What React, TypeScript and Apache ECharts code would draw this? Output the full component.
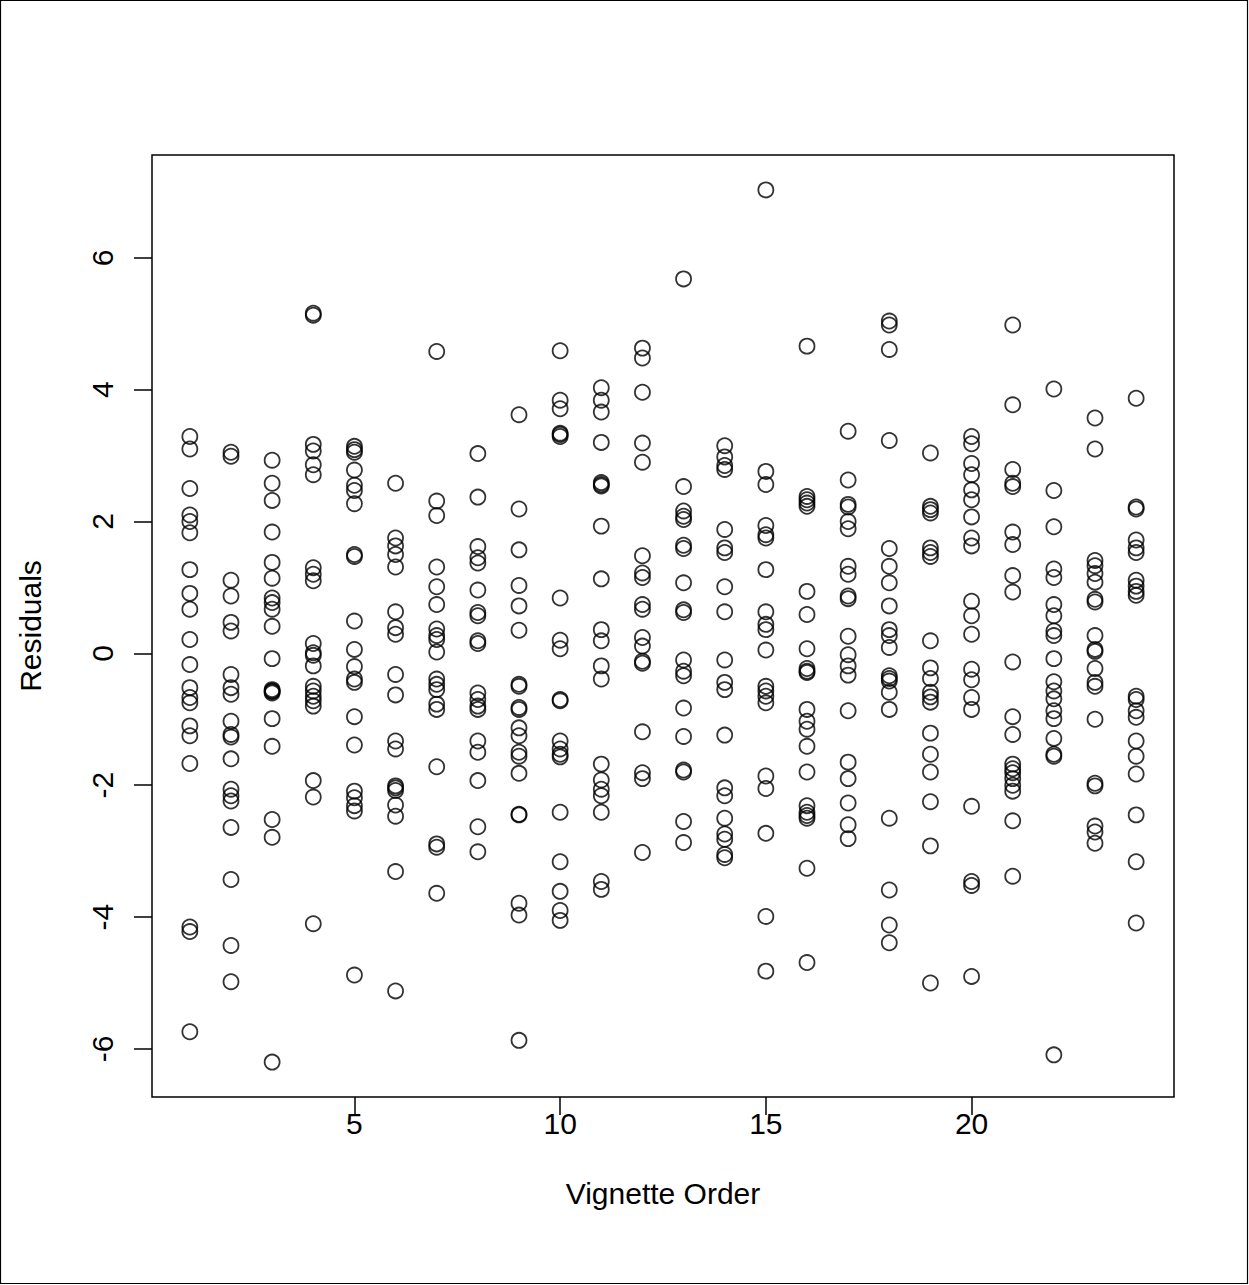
import React, { useEffect, useRef } from "react";
import * as echarts from "echarts";

const xTicks = [5, 10, 15, 20];
const yTicks = [-6, -4, -2, 0, 2, 4, 6];

const v01 = [3.29, 3.1, 2.5, 2.1, 2.0, 1.83, 1.27, 0.91, 0.67, 0.21, -0.17, -0.52, -0.67, -0.75, -1.1, -1.25, -1.67, -4.15, -4.22, -5.74];
const v02 = [3.05, 2.99, 1.11, 0.87, 0.47, 0.34, -0.32, -0.52, -0.62, -1.03, -1.23, -1.27, -1.6, -2.06, -2.16, -2.24, -2.64, -3.43, -4.43, -4.98];
const v03 = [2.93, 2.58, 2.32, 1.84, 1.38, 1.14, 0.84, 0.77, 0.67, 0.41, -0.08, -0.55, -0.57, -0.58, -0.6, -0.99, -1.41, -2.52, -2.79, -6.2];
const v04 = [5.16, 5.13, 3.17, 3.07, 2.86, 2.71, 1.3, 1.2, 1.1, 0.15, 0.01, -0.03, -0.19, -0.5, -0.57, -0.65, -0.72, -0.8, -1.93, -2.18, -4.1];
const v05 = [3.14, 3.09, 3.05, 2.78, 2.55, 2.47, 2.27, 1.5, 1.47, 0.49, 0.06, -0.2, -0.39, -0.44, -0.96, -1.39, -2.09, -2.19, -2.31, -2.39, -4.88];
const v06 = [2.58, 1.75, 1.63, 1.5, 1.31, 0.63, 0.39, 0.29, -0.32, -0.63, -1.33, -1.45, -2.01, -2.04, -2.08, -2.3, -2.47, -3.31, -5.12];
const v07 = [4.58, 2.31, 2.09, 1.31, 1.01, 0.74, 0.37, 0.27, 0.21, 0.02, -0.39, -0.47, -0.55, -0.77, -0.85, -1.72, -2.89, -2.94, -3.64];
const v08 = [3.03, 2.37, 1.62, 1.45, 1.37, 0.96, 0.62, 0.57, 0.19, 0.15, -0.6, -0.7, -0.8, -0.85, -1.33, -1.5, -1.93, -2.63, -3.01];
const v09 = [3.62, 2.19, 1.57, 1.03, 0.72, 0.35, -0.47, -0.5, -0.82, -0.85, -1.13, -1.25, -1.5, -1.56, -1.82, -2.44, -2.45, -3.79, -3.97, -5.87];
const v10 = [4.59, 3.84, 3.71, 3.34, 3.32, 3.29, 0.84, 0.2, 0.07, -0.7, -0.72, -1.33, -1.45, -1.53, -1.57, -2.41, -3.16, -3.61, -3.9, -4.05];
const v11 = [4.03, 3.84, 3.66, 3.2, 2.59, 2.56, 2.54, 1.93, 1.13, 0.36, 0.19, -0.19, -0.39, -1.68, -1.92, -2.06, -2.16, -2.41, -3.46, -3.58];
const v12 = [4.63, 4.48, 3.96, 3.19, 2.9, 1.48, 1.22, 1.15, 0.74, 0.67, 0.24, 0.11, -0.12, -0.15, -1.19, -1.81, -1.9, -3.02];
const v13 = [5.68, 2.53, 2.16, 2.08, 2.03, 1.64, 1.59, 1.07, 0.66, 0.62, -0.1, -0.27, -0.34, -0.83, -1.26, -1.77, -1.8, -2.55, -2.87];
const v14 = [3.15, 2.98, 2.85, 2.79, 1.88, 1.6, 1.53, 1.01, 0.63, -0.1, -0.44, -0.55, -1.24, -2.04, -2.16, -2.5, -2.74, -2.82, -3.05, -3.1];
const v15 = [7.03, 2.76, 2.56, 1.94, 1.8, 1.75, 1.27, 0.63, 0.44, 0.36, 0.05, -0.5, -0.57, -0.65, -0.75, -1.86, -2.05, -2.73, -3.99, -4.82];
const v16 = [4.66, 2.38, 2.33, 2.28, 2.23, 0.94, 0.59, 0.07, -0.23, -0.27, -0.29, -0.85, -1.03, -1.15, -1.41, -1.8, -2.31, -2.41, -2.46, -2.5, -3.26, -4.69];
const v17 = [3.37, 2.63, 2.26, 2.22, 2.0, 1.89, 1.32, 1.2, 0.87, 0.83, 0.26, -0.02, -0.19, -0.33, -0.87, -1.65, -1.9, -2.27, -2.6, -2.81];
const v18 = [5.04, 4.98, 4.61, 3.23, 1.59, 1.32, 1.07, 0.72, 0.36, 0.27, 0.09, -0.34, -0.38, -0.42, -0.59, -0.85, -2.5, -3.59, -4.12, -4.39];
const v19 = [3.04, 2.23, 2.18, 2.13, 1.6, 1.53, 1.47, 0.19, -0.22, -0.38, -0.59, -0.66, -0.74, -1.21, -1.53, -1.8, -2.25, -2.92, -5.0];
const v20 = [3.29, 3.18, 2.88, 2.71, 2.48, 2.33, 2.07, 1.75, 1.63, 0.79, 0.57, 0.29, -0.24, -0.4, -0.67, -0.85, -2.32, -3.46, -3.52, -4.9];
const v21 = [4.98, 3.77, 2.79, 2.58, 2.53, 1.84, 1.65, 1.18, 0.93, -0.13, -0.96, -1.23, -1.68, -1.75, -1.81, -1.9, -2.0, -2.09, -2.54, -3.38];
const v22 = [4.01, 2.47, 1.92, 1.28, 1.15, 0.74, 0.57, 0.34, 0.27, -0.08, -0.43, -0.57, -0.69, -0.87, -0.99, -1.29, -1.53, -1.56, -6.09];
const v23 = [3.57, 3.1, 1.41, 1.33, 1.21, 1.08, 0.82, 0.78, 0.27, 0.06, 0.03, -0.23, -0.44, -0.5, -1.0, -1.97, -2.01, -2.62, -2.71, -2.88];
const v24 = [3.87, 2.22, 2.19, 1.72, 1.6, 1.53, 1.11, 1.02, 0.94, 0.88, -0.65, -0.7, -0.87, -0.97, -1.33, -1.56, -1.83, -2.45, -3.16, -4.09];

const residualsByVignette = [v01, v02, v03, v04, v05, v06, v07, v08, v09, v10, v11, v12, v13, v14, v15, v16, v17, v18, v19, v20, v21, v22, v23, v24];

const FONT = "'Liberation Sans', Arial, Helvetica, sans-serif";

export default function App() {
  const ref = useRef<HTMLDivElement>(null);
  useEffect(() => {
    if (!ref.current) return;
    const chart = echarts.init(ref.current, null, { renderer: "svg" });
    const points: number[][] = [];
    residualsByVignette.forEach((vals, i) => {
      vals.forEach((v) => points.push([i + 1, v]));
    });
    const all = points.map((p) => p[1]);
    const yMin = Math.min(...all);
    const yMax = Math.max(...all);
    const yPad = (yMax - yMin) * 0.04;
    const xPad = (24 - 1) * 0.04;
    chart.setOption({
      animation: false,
      backgroundColor: "#ffffff",
      grid: {
        left: 152,
        top: 155,
        width: 1022,
        height: 942,
        show: true,
        borderColor: "#000",
        borderWidth: 1.5,
        backgroundColor: "transparent",
      },
      xAxis: {
        type: "value",
        min: 1 - xPad,
        max: 24 + xPad,
        name: "Vignette Order",
        nameLocation: "middle",
        nameGap: 81,
        nameTextStyle: { fontFamily: FONT, fontSize: 30, color: "#000", verticalAlign: "top" },
        axisLine: { show: false, onZero: false },
        splitLine: { show: false },
        axisTick: {
          show: true,
          inside: false,
          length: 18,
          customValues: xTicks,
          lineStyle: { color: "#000", width: 1.5 },
        },
        axisLabel: {
          customValues: xTicks,
          margin: 11,
          fontFamily: FONT,
          fontSize: 30,
          color: "#000",
          verticalAlign: "top",
        },
      },
      yAxis: {
        type: "value",
        min: yMin - yPad,
        max: yMax + yPad,
        name: "Residuals",
        nameLocation: "middle",
        nameGap: 107,
        nameRotate: 90,
        nameTextStyle: { fontFamily: FONT, fontSize: 30, color: "#000" },
        axisLine: { show: false, onZero: false },
        splitLine: { show: false },
        axisTick: {
          show: true,
          inside: false,
          length: 18,
          customValues: yTicks,
          lineStyle: { color: "#000", width: 1.5 },
        },
        axisLabel: {
          customValues: yTicks,
          rotate: 90,
          margin: 50,
          fontFamily: FONT,
          fontSize: 30,
          color: "#000",
          align: "center",
          verticalAlign: "middle",
        },
      },
      graphic: [
        {
          type: "rect",
          shape: { x: 0.5, y: 0.5, width: 1247, height: 1283 },
          style: { fill: "none", stroke: "#000", lineWidth: 1.2 },
          silent: true,
        },
      ],
      series: [
        {
          type: "scatter",
          data: points,
          symbol: "circle",
          symbolSize: 15,
          itemStyle: { color: "rgba(0,0,0,0)", borderColor: "#000", borderWidth: 1.8 },
          emphasis: { disabled: true },
        },
      ],
    });
    return () => chart.dispose();
  }, []);
  return (
    <div
      ref={ref}
      style={{ position: "fixed", left: 0, top: 0, width: 1249, height: 1285, background: "#fff" }}
    />
  );
}
